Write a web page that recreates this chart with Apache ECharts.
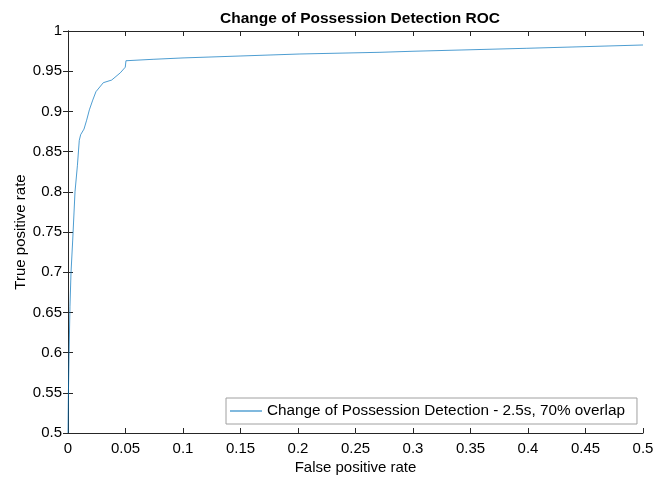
<!DOCTYPE html>
<html>
<head>
<meta charset="utf-8">
<script src="https://cdn.jsdelivr.net/npm/echarts@6/dist/echarts.min.js"></script>
<style type="text/css">
html, body { margin: 0; padding: 0; background: #fff; }
#chart { width: 654px; height: 478px; }
</style>
</head>
<body>
<div id="chart"></div>
<script type="text/javascript">
// ROC curve
var fpr = [0, 0.0003, 0.0009, 0.0017, 0.0026, 0.0041, 0.0061, 0.0082, 0.0098, 0.011, 0.0139, 0.0162, 0.0186,
    0.0215, 0.0243, 0.0307, 0.038, 0.0455, 0.0498, 0.0504, 0.074, 0.1, 0.1496, 0.2017, 0.2713, 0.30, 0.399, 0.5];
var tpr = [0.5, 0.545, 0.595, 0.657, 0.699, 0.74, 0.80, 0.833, 0.864, 0.871, 0.878, 0.889, 0.902,
    0.914, 0.9245, 0.9357, 0.939, 0.948, 0.955, 0.963, 0.9648, 0.9665, 0.9689, 0.9714, 0.9735, 0.9748, 0.9785, 0.9826];
var seriesName = 'Change of Possession Detection - 2.5s, 70% overlap';

var points = [];
for (var i = 0; i < fpr.length; i++) {
    points.push([fpr[i], tpr[i]]);
}

var font = 'Liberation Sans, Arial, Helvetica, sans-serif';
var axisLine = { show: true, lineStyle: { color: '#262626', width: 1 } };
var tick = { inside: true, length: 5, lineStyle: { color: '#262626' } };

var chart = echarts.init(document.getElementById('chart'));
chart.setOption({
    animation: false,
    textStyle: { fontFamily: font },
    title: {
        text: 'Change of Possession Detection ROC',
        left: 355, top: 6, textAlign: 'center',
        textStyle: { fontSize: 15.5, fontWeight: 'bold', color: '#000', fontFamily: font }
    },
    grid: { left: 68, right: 11, top: 31, bottom: 45, containLabel: false, outerBoundsMode: 'none' },
    legend: {
        left: 226, top: 398,
        padding: [4, 12, 4, 4],
        itemWidth: 32, itemHeight: 1, itemGap: 5,
        borderColor: '#a0a0a0', borderWidth: 1, borderRadius: 0,
        backgroundColor: '#fff',
        textStyle: { fontSize: 15.3, color: '#000', fontFamily: font, lineHeight: 18 },
        data: [{ name: seriesName, icon: 'rect' }]
    },
    xAxis: [{
        type: 'value', min: 0, max: 0.5, interval: 0.05,
        name: 'False positive rate', nameLocation: 'middle', nameGap: 27, nameMoveOverlap: false,
        nameTextStyle: { fontSize: 15, color: '#000' },
        axisLine: axisLine,
        axisTick: tick,
        axisLabel: { fontSize: 15, color: '#000', margin: 8 },
        splitLine: { show: false }
    }, {
        type: 'value', min: 0, max: 0.5, interval: 0.05, position: 'top',
        axisLine: axisLine,
        axisTick: tick,
        axisLabel: { show: false },
        splitLine: { show: false }
    }],
    yAxis: [{
        type: 'value', min: 0.5, max: 1, interval: 0.05,
        name: 'True positive rate', nameLocation: 'middle', nameGap: 40, nameMoveOverlap: false,
        nameTextStyle: { fontSize: 15, color: '#000' },
        axisLine: axisLine,
        axisTick: tick,
        axisLabel: { fontSize: 15, color: '#000', margin: 6 },
        splitLine: { show: false }
    }, {
        type: 'value', min: 0.5, max: 1, interval: 0.05, position: 'right',
        axisLine: axisLine,
        axisTick: tick,
        axisLabel: { show: false },
        splitLine: { show: false }
    }],
    series: [{
        name: seriesName,
        type: 'line',
        symbol: 'none',
        xAxisIndex: 0, yAxisIndex: 0,
        lineStyle: { color: '#0072BD', width: 0.7 },
        itemStyle: { color: '#0072BD' },
        data: points
    }]
});
</script>
</body>
</html>
